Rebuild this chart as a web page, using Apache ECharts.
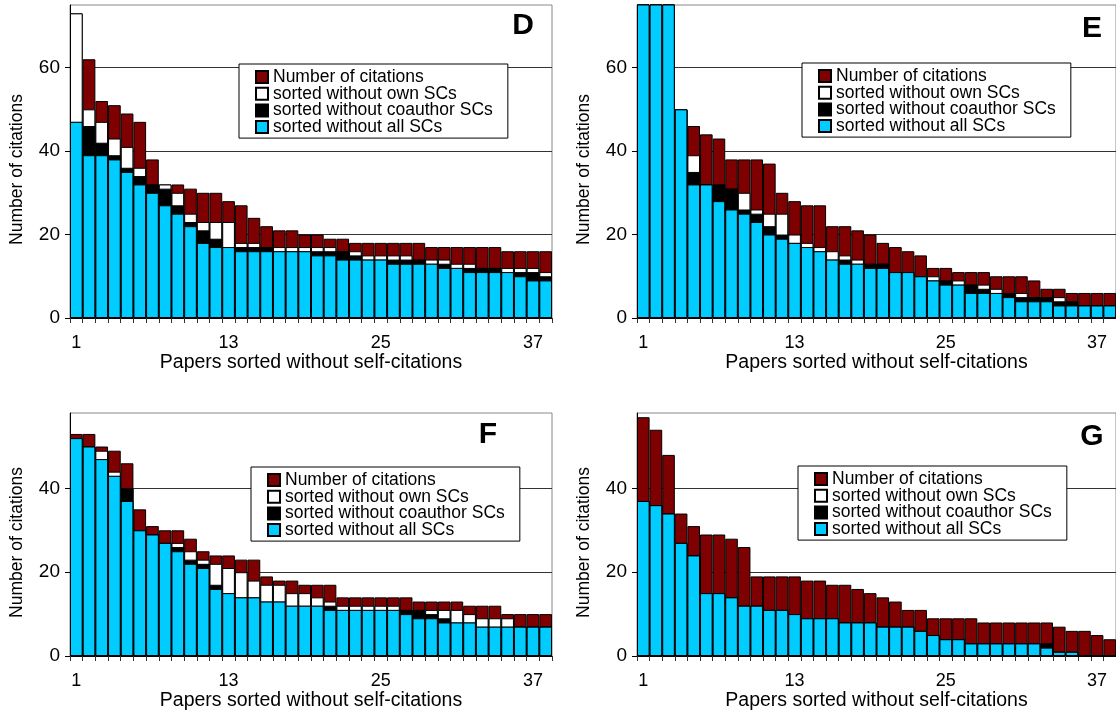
<!DOCTYPE html>
<html>
<head>
<meta charset="utf-8">
<script src="https://cdn.jsdelivr.net/npm/echarts@6/dist/echarts.min.js"></script>
<style>
html,body{margin:0;padding:0;background:#fff;}
#c{width:1116px;height:717px;}
</style>
</head>
<body>
<div id="c"></div>
<script>
// Categories: papers 1..38
var papers = ['1','2','3','4','5','6','7','8','9','10','11','12','13','14','15','16','17','18','19','20','21','22','23','24','25','26','27','28','29','30','31','32','33','34','35','36','37','38'];
var seriesNames = ['Number of citations','sorted without own SCs','sorted without coauthor SCs','sorted without all SCs'];
var panelLetters = ['D','E','F','G'];
var yTicksTop = [0,20,40,60];
var yTicksBottom = [0,20,40];

// Panel D
var dCitations = [73,62,52,51,49,47,38,32,32,31,30,30,28,27,24,22,21,21,20,20,19,19,18,18,18,18,18,18,17,17,17,17,17,17,16,16,16,16];
var dOwn       = [73,50,47,43,41,36,32,32,30,25,23,23,23,18,18,17,17,17,17,17,17,16,16,15,15,15,15,14,14,14,13,13,12,12,12,12,12,11];
var dCoauthor  = [47,46,42,39,36,34,32,31,27,23,21,19,17,17,17,17,16,16,16,16,16,16,15,14,14,14,14,14,13,13,12,12,12,12,11,11,11,10];
var dAll       = [47,39,39,38,35,32,30,27,25,22,18,17,17,16,16,16,16,16,16,15,15,14,14,14,14,13,13,13,13,12,12,11,11,11,11,10,9,9];

// Panel E (first three papers run off the top of the axis)
var eCitations = [95,85,80,50,46,44,43,38,38,38,37,30,28,27,27,22,22,21,20,18,17,16,15,12,12,11,11,11,10,10,10,9,7,7,6,6,6,6];
var eOwn       = [95,85,80,50,39,32,32,31,30,26,25,25,20,18,17,16,15,14,13,13,11,11,10,10,9,9,8,8,7,6,6,5,5,5,4,3,3,3];
var eCoauthor  = [95,85,80,50,35,32,32,31,26,25,22,20,18,17,16,14,14,13,13,13,11,11,10,9,9,8,8,7,6,6,5,5,5,4,4,3,3,3];
var eAll       = [95,85,80,50,32,32,28,26,25,23,20,19,18,17,16,14,13,13,12,12,11,11,10,9,8,8,6,6,6,5,4,4,4,3,3,3,3,3];

// Panel F
var fCitations = [53,53,50,49,46,35,31,30,30,28,25,24,24,23,23,19,18,18,17,17,17,14,14,14,14,14,14,13,13,13,13,12,12,12,10,10,10,10];
var fOwn       = [52,50,49,44,40,30,29,27,27,25,23,22,21,20,18,17,17,15,15,14,13,12,12,12,12,12,11,11,11,11,11,10,9,9,9,7,7,7];
var fCoauthor  = [52,50,47,43,40,30,29,27,26,23,22,17,15,14,14,13,13,12,12,12,12,11,11,11,11,11,11,11,10,9,8,8,7,7,7,7,7,7];
var fAll       = [52,50,47,43,37,30,29,27,25,22,21,16,15,14,14,13,13,12,12,12,11,11,11,11,11,11,10,9,9,8,8,8,7,7,7,7,7,7];

// Panel G
var gCitations = [57,54,48,34,31,29,29,28,26,19,19,19,19,18,18,17,17,16,15,14,13,11,11,9,9,9,9,8,8,8,8,8,8,7,6,6,5,4];
var gOwn       = [37,36,34,27,24,15,15,14,12,12,11,11,10,9,9,9,8,8,8,7,7,7,6,5,4,4,3,3,3,3,3,3,3,1,1,0,0,0];
var gCoauthor  = [37,36,34,27,24,15,15,14,12,12,11,11,10,9,9,9,8,8,8,7,7,7,6,5,4,4,3,3,3,3,3,3,3,1,1,0,0,0];
var gAll       = [37,36,34,27,24,15,15,14,12,12,11,11,10,9,9,9,8,8,8,7,7,7,6,5,4,4,3,3,3,3,3,3,2,1,1,0,0,0];

var panelData = [
  [dCitations,dOwn,dCoauthor,dAll],
  [eCitations,eOwn,eCoauthor,eAll],
  [fCitations,fOwn,fCoauthor,fAll],
  [gCitations,gOwn,gCoauthor,gAll]
];

var FONT = 'Liberation Sans, Arial, sans-serif';
var colors = ['#7f0000','#ffffff','#000000','#00ccff'];
var grids = [
  {left:70, top:5, width:482, height:313},
  {left:637, top:5, width:481, height:313},
  {left:70, top:413, width:482, height:243},
  {left:637, top:413, width:481, height:243}
];
var yMax = [75,75,58,58];
var legendPos = [
  {left:239, top:64},
  {left:802, top:63},
  {left:251, top:467},
  {left:798, top:466}
];
var letterPos = [[523,26],[1092,29],[488,435],[1092,437]];

var option = {
  animation:false,
  backgroundColor:'#fff',
  grid:[], xAxis:[], yAxis:[], series:[], legend:[], graphic:[]
};

for (var p=0;p<4;p++){
  var g = grids[p];
  option.grid.push({left:g.left, top:g.top, width:g.width, height:g.height, show:true, borderColor:'#888', borderWidth:1, backgroundColor:'transparent', containLabel:false});
  option.xAxis.push({
    type:'category', gridIndex:p, data:papers, boundaryGap:true,
    name:'Papers sorted without self-citations', nameLocation:'middle', nameGap:33,
    nameTextStyle:{fontSize:19.5, color:'#000', fontFamily:FONT},
    axisLine:{show:true, lineStyle:{color:'#000', width:1}},
    axisTick:{show:true, interval:0, length:5, lineStyle:{color:'#333'}},
    axisLabel:{interval:function(i){return i%12===0;}, fontSize:18, color:'#000', fontFamily:FONT, margin:16},
    splitLine:{show:false}
  });
  var ticks = p<2 ? yTicksTop : yTicksBottom;
  option.yAxis.push({
    type:'value', gridIndex:p, min:0, max:yMax[p], interval:20,
    name:'Number of citations', nameLocation:'middle', nameGap:44,
    nameTextStyle:{fontSize:17.5, color:'#000', fontFamily:FONT, padding:[0,16,0,0]},
    axisLine:{show:true, lineStyle:{color:'#000', width:1}},
    axisTick:{show:true, length:5, lineStyle:{color:'#000'}, customValues:ticks},
    axisLabel:{fontSize:19, color:'#000', fontFamily:FONT, margin:10, customValues:ticks},
    splitLine:{show:true, lineStyle:{color:'#333', width:1}}
  });
  for (var s=0;s<4;s++){
    option.series.push({
      type:'bar', name:seriesNames[s], xAxisIndex:p, yAxisIndex:p,
      data:panelData[p][s], barGap:'-100%', barCategoryGap:'0%',
      itemStyle:{color:colors[s], borderColor:'#000', borderWidth:1},
      emphasis:{disabled:true}, clip:true, silent:true
    });
  }
  option.legend.push({
    data:seriesNames, orient:'vertical', left:legendPos[p].left, top:legendPos[p].top,
    padding:[4,15,2,16], itemWidth:12, itemHeight:12, itemGap:-1.3, icon:'rect',
    textStyle:{fontSize:17.5, color:'#000', fontFamily:FONT, lineHeight:16.3},
    backgroundColor:'#fff', borderColor:'#000', borderWidth:1, borderRadius:0,
    selectedMode:false, z:10
  });
  option.graphic.push({
    type:'text', x:letterPos[p][0], y:letterPos[p][1], z:20,
    style:{text:panelLetters[p], font:'bold 30px ' + FONT, fill:'#000', align:'center', verticalAlign:'middle'}
  });
}

var chart = echarts.init(document.getElementById('c'), null, {renderer:'canvas'});
chart.setOption(option);
</script>
</body>
</html>
